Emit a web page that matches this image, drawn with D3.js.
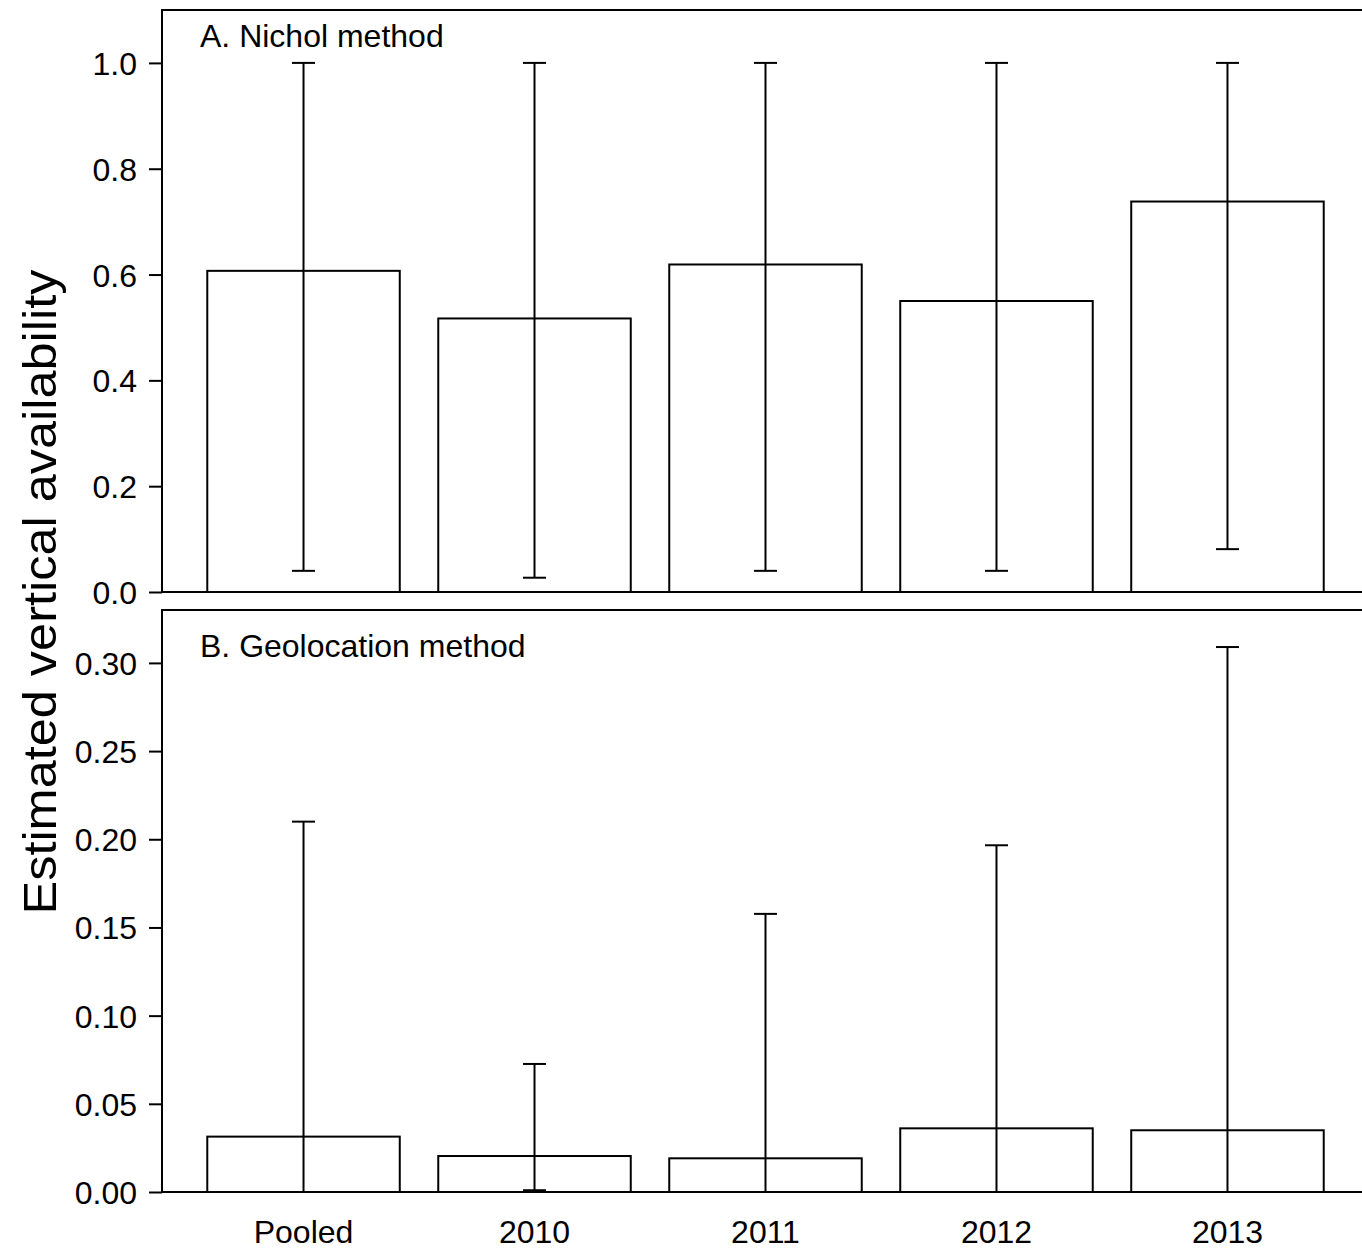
<!DOCTYPE html>
<html>
<head>
<meta charset="utf-8">
<script src="https://cdn.jsdelivr.net/npm/d3@7"></script>
<style>
  body { margin: 0; background: #fff; }
  text { font-family: "Liberation Sans", Arial, sans-serif; fill: #000; }
</style>
</head>
<body>
<svg id="chart"></svg>
<script>
const width = 1362;
const height = 1257;

// categories
const groups = ["Pooled", "2010", "2011", "2012", "2013"];

// panel A: Nichol method
const nicholMean = [0.607, 0.517, 0.619, 0.55, 0.738];
const nicholLower = [0.04, 0.027, 0.04, 0.04, 0.081];
const nicholUpper = [1.0, 1.0, 1.0, 1.0, 1.0];
const nicholTicks = [0, 0.2, 0.4, 0.6, 0.8, 1.0];

// panel B: Geolocation method
const geoMean = [0.0314, 0.0204, 0.0191, 0.0361, 0.035];
const geoLower = [0, 0.001, 0, 0, 0];
const geoUpper = [0.21, 0.0726, 0.1577, 0.1966, 0.309];
const geoTicks = [0, 0.05, 0.1, 0.15, 0.2, 0.25, 0.3];

const svg = d3.select("#chart").attr("width", width).attr("height", height);

const left = 162;
const right = 1369; // plot region runs past the picture edge

const x = d3
  .scaleBand()
  .domain(groups)
  .range([left, right])
  .paddingInner(1 / 6)
  .paddingOuter(0.196);

const panels = [
  {
    label: "A. Nichol method",
    top: 10,
    bottom: 592,
    ymax: 1.1,
    ticks: nicholTicks,
    fmt: d3.format(".1f"),
    mean: nicholMean,
    lower: nicholLower,
    upper: nicholUpper,
  },
  {
    label: "B. Geolocation method",
    top: 610,
    bottom: 1192,
    ymax: 0.33,
    ticks: geoTicks,
    fmt: d3.format(".2f"),
    mean: geoMean,
    lower: geoLower,
    upper: geoUpper,
  },
];

const capHalf = 11.5;
const lw = 2;

panels.forEach((p, k) => {
  const y = d3.scaleLinear().domain([0, p.ymax]).range([p.bottom, p.top]);
  const g = svg.append("g").attr("class", "panel");

  const rows = groups.map((name, i) => ({
    name,
    mean: p.mean[i],
    lo: p.lower[i],
    hi: p.upper[i],
  }));

  // bars
  g.selectAll(".bar")
    .data(rows)
    .join("rect")
    .attr("class", "bar")
    .attr("x", (d) => x(d.name))
    .attr("y", (d) => y(d.mean))
    .attr("width", x.bandwidth())
    .attr("height", (d) => y(0) - y(d.mean))
    .attr("fill", "#fff")
    .attr("stroke", "#000")
    .attr("stroke-width", lw);

  // error bars
  const cx = (d) => x(d.name) + x.bandwidth() / 2;
  const eb = g.selectAll(".err").data(rows).join("g").attr("class", "err");
  eb.append("line")
    .attr("x1", cx)
    .attr("x2", cx)
    .attr("y1", (d) => y(d.lo))
    .attr("y2", (d) => y(d.hi));
  eb.append("line")
    .attr("x1", (d) => cx(d) - capHalf)
    .attr("x2", (d) => cx(d) + capHalf)
    .attr("y1", (d) => y(d.hi))
    .attr("y2", (d) => y(d.hi));
  eb.append("line")
    .attr("x1", (d) => cx(d) - capHalf)
    .attr("x2", (d) => cx(d) + capHalf)
    .attr("y1", (d) => y(d.lo))
    .attr("y2", (d) => y(d.lo));
  eb.selectAll("line").attr("stroke", "#000").attr("stroke-width", lw);

  // box
  g.append("rect")
    .attr("x", left)
    .attr("y", p.top)
    .attr("width", right - left)
    .attr("height", p.bottom - p.top)
    .attr("fill", "none")
    .attr("stroke", "#000")
    .attr("stroke-width", lw);

  // y axis
  const axis = g
    .append("g")
    .attr("transform", `translate(${left},0)`)
    .call(
      d3
        .axisLeft(y)
        .tickValues(p.ticks)
        .tickFormat(p.fmt)
        .tickSize(13)
        .tickPadding(12)
    );
  axis.select(".domain").remove();
  axis.selectAll(".tick line").attr("stroke", "#000").attr("stroke-width", lw);
  axis
    .selectAll(".tick text")
    .attr("font-size", 32)
    .attr("font-family", '"Liberation Sans", Arial, sans-serif')
    .attr("fill", "#000")
    .attr("dy", "0.36em");

  // panel label
  g.append("text")
    .attr("x", 200)
    .attr("y", p.top + 37 + (k === 1 ? 10 : 0))
    .attr("font-size", 32)
    .text(p.label);

  // category labels on the lower panel
  if (k === 1) {
    g.selectAll(".xlab")
      .data(groups)
      .join("text")
      .attr("class", "xlab")
      .attr("x", (d) => x(d) + x.bandwidth() / 2)
      .attr("y", 1243)
      .attr("text-anchor", "middle")
      .attr("font-size", 32)
      .text((d) => d);
  }
});

// shared y title
svg
  .append("text")
  .attr("transform", "translate(56,592) rotate(-90)")
  .attr("text-anchor", "middle")
  .attr("font-size", 46)
  .attr("textLength", 645)
  .attr("lengthAdjust", "spacingAndGlyphs")
  .text("Estimated vertical availability");
</script>
</body>
</html>
